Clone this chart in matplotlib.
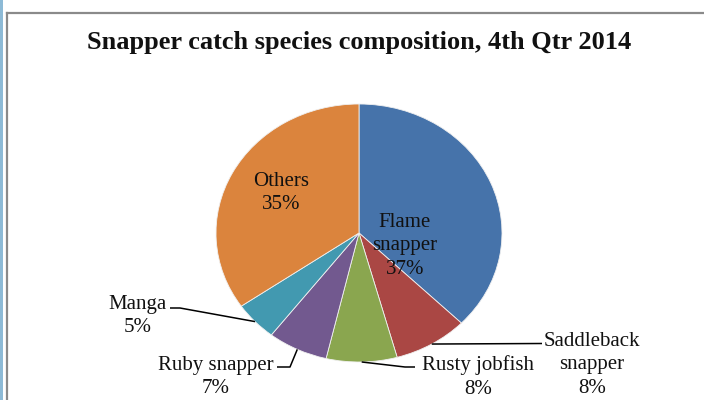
import numpy as np
import matplotlib.pyplot as plt
from matplotlib.lines import Line2D
from matplotlib.patches import Rectangle

# 数据
species = ['Flame\nsnapper', 'Saddleback\nsnapper', 'Rusty jobfish', 'Ruby snapper', 'Manga', 'Others']
share = [37.3, 8.4, 8.0, 6.8, 4.9, 34.6]
colors = ['#4673AA', '#AA4744', '#8AA64F', '#72598F', '#4299B0', '#DB843D']

W, H = 704, 400
cx, cy, rx, ry = 359, 233, 143, 129


def px(x, y):
    # 像素坐标 -> 数据坐标
    return (x - cx) / rx, (cy - y) / ry


fig = plt.figure(figsize=(7.04, 4), dpi=100)
ax = fig.add_axes([0, 0, 1, 1])

wedges, _ = ax.pie(share, colors=colors, startangle=90, counterclock=False,
                   wedgeprops=dict(linewidth=0.6, edgecolor='#f0f0f0'))
ax.set_xlim(-cx / rx, (W - cx) / rx)
ax.set_ylim(-(H - cy) / ry, cy / ry)
ax.set_aspect('auto')
ax.axis('off')

font = dict(family='Liberation Serif', size=15, color='#111111', ha='center', va='center', linespacing=1.32)

# 扇区中点(半径1处)
cum = np.cumsum([0] + share[:-1])
mids = {}
for name, c, s in zip(species, cum, share):
    ang = np.deg2rad(90 - (c + s / 2) * 3.6)
    mids[name] = (np.cos(ang), np.sin(ang))

labels = ['%s\n%d%%' % (n, round(s)) for n, s in zip(species, share)]

# 内部标签
ax.text(*px(405, 246), labels[0], **font)
ax.text(*px(281, 193), labels[5], **font)

# 外部标签 + 引导线
ax.text(*px(138, 316), labels[4], **font)
ax.text(*px(216, 377), labels[3], **font)
ax.text(*px(478, 377), labels[2], **font)
ax.text(*px(592, 365), labels[1], **font)

lines = [
    ([px(170, 308), px(180, 308)], mids['Manga']),
    ([px(277, 367), px(290, 367)], mids['Ruby snapper']),
    ([px(415, 367), px(405, 367)], mids['Rusty jobfish']),
    ([px(542, 343.5)], mids['Saddleback\nsnapper']),
]
for pts, end in lines:
    xs = [p[0] for p in pts] + [end[0]]
    ys = [p[1] for p in pts] + [end[1]]
    ax.plot(xs, ys, color='black', lw=1.1, solid_capstyle='butt')

# 标题
fig.text(359 / W, 1 - 43 / H, 'Snapper catch species composition, 4th Qtr 2014',
         family='Liberation Serif', weight='bold', size=19, ha='center', va='center', color='#111111')

# 边框
fig.add_artist(Rectangle((0, 0), 2.5 / W, 1, transform=fig.transFigure, color='#8DBAD6', lw=0))
fig.add_artist(Line2D([7.5 / W, 7.5 / W], [0, 1 - 12.5 / H], transform=fig.transFigure, color='#8a8a8a', lw=1.6))
fig.add_artist(Line2D([7.5 / W, 1], [1 - 12.5 / H, 1 - 12.5 / H], transform=fig.transFigure, color='#8a8a8a', lw=1.6))

plt.savefig('out.png', dpi=100)
